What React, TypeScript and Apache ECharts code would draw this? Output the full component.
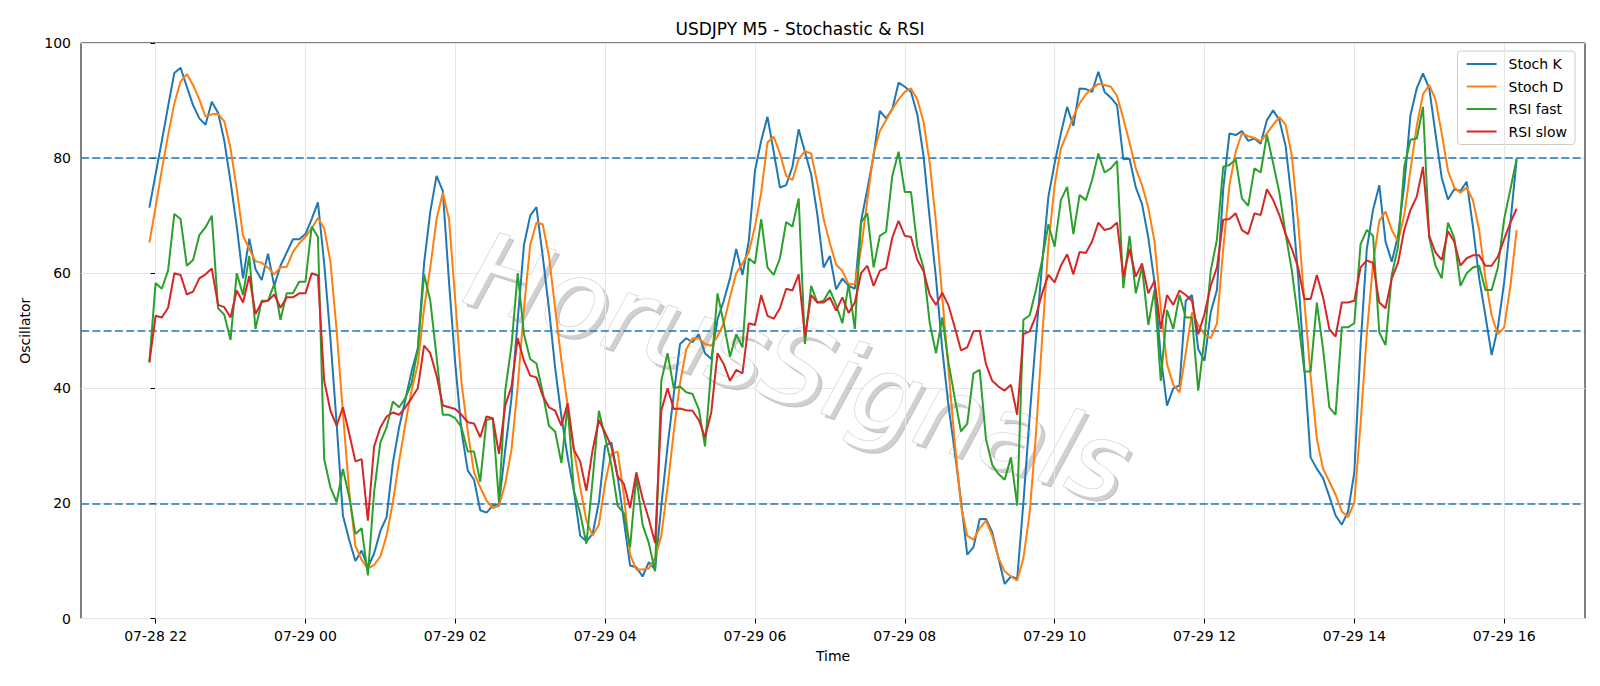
import React, { useEffect, useRef } from "react";
import * as echarts from "echarts";

// Minutes relative to 07-28 22:00, one point every 5 minutes starting at 21:55
const START_MIN = -5;
const STEP_MIN = 5;

const stochK = [
  71.4, 77.2, 83, 89, 94.8, 95.7, 92.4, 89.2, 86.9, 85.8,
  89.8, 87.9, 83, 75.9, 68.1, 59.1, 66, 60.7, 58.8, 63.4,
  57.8, 61.3, 63.6, 65.9, 65.9, 66.8, 69.4, 72.3, 61.7, 48.7,
  33.8, 17.9, 13.7, 10, 11.8, 8.9, 11.3, 15.2, 17.6, 27,
  33.2, 38, 42.9, 46.9, 61.7, 70.7, 76.9, 74.3, 58.4, 44.2,
  32.5, 25.7, 24.1, 18.8, 18.4, 19.6, 19.9, 29.3, 38.3, 51.9,
  64.9, 70, 71.5, 63, 53.9, 43.5, 35.1, 28, 22.2, 14.4,
  13.4, 14.7, 20.2, 30, 30.6, 24.7, 17, 9.2, 8.9, 7.3,
  9.8, 8.5, 19.6, 29.9, 39, 47.7, 48.7, 48, 49.4, 46.1,
  45.1, 52, 55.2, 59.1, 64.2, 59.7, 65.5, 77.8, 83, 87.2,
  81.1, 74.9, 75.3, 78.5, 85, 81.1, 77.2, 70.1, 61, 63,
  57.2, 59.1, 57.8, 57.3, 69.1, 74.6, 80.4, 88.2, 86.9, 88.5,
  93.1, 92.4, 91.5, 87.6, 80.4, 69.4, 59.1, 46.8, 37, 29,
  20.5, 11.1, 12.4, 17.3, 17.3, 15, 10.5, 6, 7.3, 6.9,
  20.2, 35.1, 48.7, 61.7, 73.3, 79.1, 84.3, 88.9, 85.6, 92.1,
  92, 91.5, 95, 91.5, 90.5, 89.2, 79.8, 79.9, 74.9, 72,
  66.2, 58.4, 45.5, 37, 40, 40.5, 55.2, 56.2, 46.8, 44.8,
  53.2, 57.1, 74.6, 84.3, 84, 84.7, 83, 83.4, 82.5, 86.6,
  88.3, 86.6, 82.1, 72.5, 59.5, 43.5, 28, 26, 24.4, 21.2,
  17.9, 16.3, 18.6, 25.4, 47.4, 64.2, 71, 75.3, 65.5, 62,
  66.5, 75.3, 87.5, 92.1, 94.7, 92.1, 84.3, 76.6, 72.8, 74.6,
  74.3, 75.9, 68.1, 59.1, 52.6, 45.8, 50.6, 58.4, 68.8, 79.8,
];

const stochD = [
  65.3, 71.5, 78, 84, 89.5, 93.3, 94.6, 92.7, 90.2, 87.2,
  87.6, 87.7, 86.4, 81.7, 74.6, 66.5, 64.2, 62.1, 61.8, 61,
  59.8, 61, 61.1, 63.7, 65.2, 66.3, 67.8, 69.6, 67.8, 62,
  50, 35.8, 22.2, 12.6, 10.2, 8.7, 9.3, 10.8, 14.4, 20.2,
  27.3, 33.8, 39.6, 44.2, 53.9, 61, 69.4, 74, 69.4, 55.2,
  40.9, 32.5, 25.4, 22.8, 20.5, 19.2, 19.6, 23.4, 29.3, 40.3,
  53.9, 64.9, 68.8, 68.5, 63, 53.9, 44.8, 37, 29.3, 22.8,
  17, 14.4, 16.3, 23.5, 28.6, 29, 21.5, 11.1, 8.5, 8.5,
  8.7, 10.5, 14.4, 22.8, 32.5, 40.9, 46.8, 48.7, 48.7, 47.7,
  47.4, 49, 51.3, 55.8, 60, 61.7, 63.6, 68.1, 74, 82.7,
  83.7, 80.8, 76.9, 76.2, 79.8, 81.2, 80.8, 75.6, 69.4, 65.2,
  61.5, 60.4, 58.1, 58.1, 64.2, 72.7, 80.8, 84.7, 86.6, 88.5,
  90.2, 91.5, 92.1, 90.2, 86.3, 79.1, 68.8, 55.8, 43.2, 30.6,
  19.6, 14.4, 13.7, 15.7, 17, 14.4, 10.5, 8.2, 7.3, 6.6,
  10.5, 18.3, 31.9, 48.7, 64.9, 75.3, 81.7, 84.3, 87.2, 89.5,
  91.1, 92.1, 92.9, 92.7, 92.4, 90.8, 86.9, 82.7, 78.2, 75.3,
  71.4, 65.5, 53.9, 44.2, 40.6, 39.3, 46.1, 53.2, 51, 49.4,
  48.7, 51.3, 64.2, 75.3, 81.1, 84.3, 83.8, 83.5, 82.9, 84.3,
  85.8, 87.1, 85.8, 80.4, 69, 55.2, 42.2, 31.2, 26, 23.8,
  21.5, 18.6, 17.6, 20.2, 33.8, 49.4, 61.7, 69.1, 70.7, 67.5,
  65.5, 70.1, 78, 85.6, 91.1, 92.7, 90.2, 84.3, 77.8, 74.9,
  74, 74.9, 72.7, 67.5, 59.1, 52.6, 49.4, 50.6, 57.8, 67.5,
];

const rsiFast = [
  44.5, 58.3, 57.3, 60.5, 70.3, 69.4, 61.3, 62.3, 66.6, 68,
  70, 53.9, 52.8, 48.4, 60, 56.2, 63, 50.3, 55.2, 55.2,
  58.1, 51.9, 56.5, 56.5, 58.5, 58.5, 68.1, 66.3, 27.7, 22.8,
  20.2, 26, 21.2, 14.7, 15.7, 7.5, 22, 30.6, 33.2, 37.7,
  36.7, 38.3, 40.9, 46.8, 59.8, 55.2, 45.5, 35.4, 35.4, 34.8,
  33.2, 29, 29, 23.8, 34.5, 34.8, 20.2, 39.6, 47.4, 60,
  49.4, 45.1, 44.3, 39.3, 33.5, 32.5, 27, 37, 22.2, 18.3,
  13, 24.1, 36.1, 31.5, 26.7, 19.6, 18.3, 12.4, 24.7, 16.3,
  13.1, 8.2, 41.3, 46.1, 40, 40.3, 39.3, 39, 36.4, 29.9,
  43.5, 56.5, 51.3, 45.5, 49.4, 47.1, 62.6, 61.7, 69.4, 61,
  59.7, 62.6, 68.9, 68.1, 73, 47.7, 57.8, 54.9, 55.2, 57.1,
  54.5, 51.3, 58.1, 50.3, 68.8, 70.4, 61, 66.5, 67.2, 76.9,
  81.1, 74.1, 74.1, 64.6, 61, 51.3, 46.1, 52.3, 44.5, 38.3,
  32.5, 33.8, 42.6, 43.2, 31.2, 26.7, 25.1, 24.1, 28, 19.6,
  51.9, 52.7, 57.1, 62.3, 68.5, 64.6, 72.7, 75, 66.8, 73.6,
  72.7, 76.2, 80.8, 77.5, 78.2, 79.5, 57.4, 66.5, 56.5, 61.1,
  51, 57.1, 41.3, 53.6, 50.3, 56.2, 52.3, 52.3, 39.6, 48.7,
  60.4, 65.9, 78.5, 78.8, 79.8, 73, 71.7, 78.2, 77.5, 84,
  79.1, 74, 66.8, 60.4, 52, 42.9, 42.9, 54.9, 46.8, 36.7,
  35.4, 50.6, 50.6, 51.3, 65, 67.5, 66.5, 49.7, 47.5, 59.7,
  64.6, 78.5, 83.2, 83.4, 88.9, 66.2, 61.3, 59.1, 68.8, 66.2,
  57.8, 60, 61, 61.3, 57.1, 57.1, 61, 69.4, 74.6, 79.9,
];

const rsiSlow = [
  44.5, 52.6, 52.3, 54, 60, 59.7, 56.3, 56.8, 59.1, 59.8,
  60.8, 54.5, 54.1, 52.3, 57, 54.9, 59.5, 52.9, 55, 55.2,
  56.3, 54, 55.8, 55.8, 56.5, 56.5, 60, 59.6, 41.3, 36.1,
  33.5, 36.7, 32.2, 27.3, 27.7, 17, 29.9, 33.2, 35.1, 35.8,
  35.4, 36.7, 38.3, 40, 47.4, 46.1, 42.2, 37, 36.7, 36.4,
  35.4, 34.1, 33.9, 31.5, 35.1, 34.8, 28.6, 37, 40.3, 48.7,
  44.8, 42.2, 41.9, 38.7, 36.7, 36.1, 33.5, 37.4, 29.3, 27.3,
  22.2, 29.3, 34.5, 32.3, 29.9, 24.7, 23.4, 19.2, 25.4, 20.9,
  17.3, 13.1, 36.1, 40, 36.4, 36.5, 36.2, 36.1, 34.5, 31.5,
  35.8, 46.1, 44.2, 41.3, 43.2, 42.6, 51.3, 51, 56.2, 52.6,
  52.1, 53.9, 57.3, 57, 59.8, 49, 56.2, 54.9, 54.9, 55.8,
  53.5, 55.8, 53.1, 54.9, 60, 61.3, 57.8, 60.4, 60.9, 66.2,
  69.1, 66.5, 66.3, 62.3, 60.4, 56.2, 54.5, 56.6, 54.4, 50.6,
  46.6, 47.1, 49.9, 50, 44.2, 41.3, 40.3, 39.6, 40.6, 35.4,
  49.4, 49.9, 52.6, 56.5, 59.7, 58.4, 61.3, 63.3, 59.8, 63.7,
  63.5, 65.5, 68.8, 67.5, 67.8, 68.8, 59.4, 64.2, 59.4, 61.7,
  56.5, 58.7, 50.3, 56.2, 54.5, 57, 56.2, 55.2, 49.4, 52.9,
  57.8, 61, 69.3, 69.4, 70.4, 67.5, 66.8, 70.4, 70.1, 74.6,
  72.7, 70.1, 66.8, 64.2, 61, 55.5, 55.5, 59.7, 55.8, 50.3,
  49, 54.9, 54.9, 55.2, 61, 62.2, 61.8, 54.9, 53.9, 59.1,
  61.8, 67.5, 71, 73.3, 78.5, 66.5, 63.6, 62.3, 67.3, 65.5,
  61.3, 62.6, 63.1, 63.1, 61.3, 61.3, 62.9, 65.9, 68.8, 71.2,
];

const tickValues = [0, 120, 240, 360, 480, 600, 720, 840, 960, 1080];
const tickLabels = [
  "07-28 22", "07-29 00", "07-29 02", "07-29 04", "07-29 06",
  "07-29 08", "07-29 10", "07-29 12", "07-29 14", "07-29 16",
];
const levelLines = [20, 50, 80];
const yTicks = [0, 20, 40, 60, 80, 100];

const seriesNames = ["Stoch K", "Stoch D", "RSI fast", "RSI slow"];
const seriesColors = ["#1f77b4", "#ff7f0e", "#2ca02c", "#d62728"];
const seriesValues = [stochK, stochD, rsiFast, rsiSlow];

const X_MIN = -59.75;
const X_MAX = 1144.75;
const FONT = '"DejaVu Sans", "Liberation Sans", sans-serif';

export default function App() {
  const ref = useRef<HTMLDivElement>(null);

  useEffect(() => {
    if (!ref.current) return;
    const chart = echarts.init(ref.current, undefined, { renderer: "svg" });

    const toPairs = (vals: number[]) =>
      vals.map((v, i) => [START_MIN + i * STEP_MIN, v]);

    const dataSeries = seriesValues.map((vals, k) => ({
      name: seriesNames[k],
      type: "line",
      data: toPairs(vals),
      showSymbol: false,
      symbol: "none",
      z: 5,
      lineStyle: { color: seriesColors[k], width: 2 },
      itemStyle: { color: seriesColors[k] },
      emphasis: { disabled: true },
    }));

    const option: any = {
      animation: false,
      backgroundColor: "#ffffff",
      textStyle: { fontFamily: FONT },
      title: {
        text: "USDJPY M5 - Stochastic & RSI",
        left: "center",
        top: 15,
        textStyle: { fontFamily: FONT, fontSize: 17, fontWeight: "normal", color: "#000" },
      },
      graphic: [
        {
          type: "text",
          x: 802,
          y: 372,
          rotation: -0.3,
          z: 1,
          silent: true,
          style: {
            text: "HorusSignals",
            font: 'italic 105px "DejaVu Sans"',
            fill: "rgba(170,170,170,0.55)",
            stroke: "rgba(170,170,170,0.55)",
            lineWidth: 1,
            textAlign: "center",
            textVerticalAlign: "middle",
          },
        },
        {
          type: "text",
          x: 798,
          y: 368,
          rotation: -0.3,
          z: 1,
          silent: true,
          style: {
            text: "HorusSignals",
            font: 'italic 105px "DejaVu Sans"',
            fill: "#ffffff",
            stroke: "#d4d4d4",
            lineWidth: 1.5,
            textAlign: "center",
            textVerticalAlign: "middle",
          },
        },
      ],
      legend: {
        data: seriesNames,
        orient: "vertical",
        right: 25,
        top: 51,
        padding: [5, 8, 5, 9],
        itemWidth: 30,
        itemHeight: 2,
        itemGap: 6.5,
        icon: "rect",
        backgroundColor: "rgba(255,255,255,0.85)",
        borderColor: "#cccccc",
        borderWidth: 1,
        borderRadius: 3,
        textStyle: { fontFamily: FONT, fontSize: 14, color: "#000", lineHeight: 16, padding: [0, 0, 0, 7] },
      },
      grid: {
        left: 81,
        right: 15,
        top: 43,
        bottom: 67.5,
        show: true,
        borderColor: "#000",
        borderWidth: 1,
        backgroundColor: "transparent",
        containLabel: false,
      },
      xAxis: {
        type: "value",
        min: X_MIN,
        max: X_MAX,
        name: "Time",
        nameLocation: "middle",
        nameGap: 30,
        nameTextStyle: { fontFamily: FONT, fontSize: 14, color: "#000" },
        axisLine: { show: false },
        axisTick: {
          show: true,
          length: 5,
          customValues: tickValues,
          lineStyle: { color: "#000", width: 1 },
        },
        axisLabel: {
          customValues: tickValues,
          margin: 10,
          fontFamily: FONT,
          fontSize: 14,
          color: "#000",
          formatter: (v: number) => {
            const idx = tickValues.indexOf(Math.round(v));
            return idx >= 0 ? tickLabels[idx] : "";
          },
        },
        splitLine: { show: false },
      },
      yAxis: {
        type: "value",
        min: 0,
        max: 100,
        interval: 20,
        name: "Oscillator",
        nameLocation: "middle",
        nameGap: 49,
        nameRotate: 90,
        nameTextStyle: { fontFamily: FONT, fontSize: 14, color: "#000" },
        axisLine: { show: false },
        axisTick: { show: true, length: 5, lineStyle: { color: "#000", width: 1 } },
        axisLabel: {
          margin: 10,
          fontFamily: FONT,
          fontSize: 14,
          color: "#000",
          formatter: (v: number) => (yTicks.includes(v) ? String(v) : ""),
        },
        splitLine: { show: true, lineStyle: { color: "#e6e6e6", width: 1 } },
      },
      series: [
        {
          name: "_grid",
          type: "line",
          data: [[X_MIN, 0]],
          showSymbol: false,
          symbol: "none",
          lineStyle: { width: 0 },
          z: 2,
          silent: true,
          markLine: {
            silent: true,
            symbol: ["none", "none"],
            label: { show: false },
            lineStyle: { color: "#e6e6e6", width: 1, type: "solid" },
            emphasis: { disabled: true },
            data: tickValues.map((v) => ({ xAxis: v })),
          },
        },
        ...dataSeries,
        {
          name: "_levels",
          type: "line",
          data: [[X_MIN, 0]],
          showSymbol: false,
          symbol: "none",
          lineStyle: { width: 0 },
          z: 6,
          silent: true,
          markLine: {
            silent: true,
            symbol: ["none", "none"],
            label: { show: false },
            lineStyle: { color: "#1f77b4", width: 1.5, type: [8, 3.3] },
            emphasis: { disabled: true },
            data: levelLines.map((v) => ({ yAxis: v })),
          },
        },
      ],
    };

    chart.setOption(option);
    return () => {
      chart.dispose();
    };
  }, []);

  return (
    <div
      ref={ref}
      style={{ position: "fixed", left: 0, top: 0, width: 1600, height: 686, background: "#fff" }}
    />
  );
}
